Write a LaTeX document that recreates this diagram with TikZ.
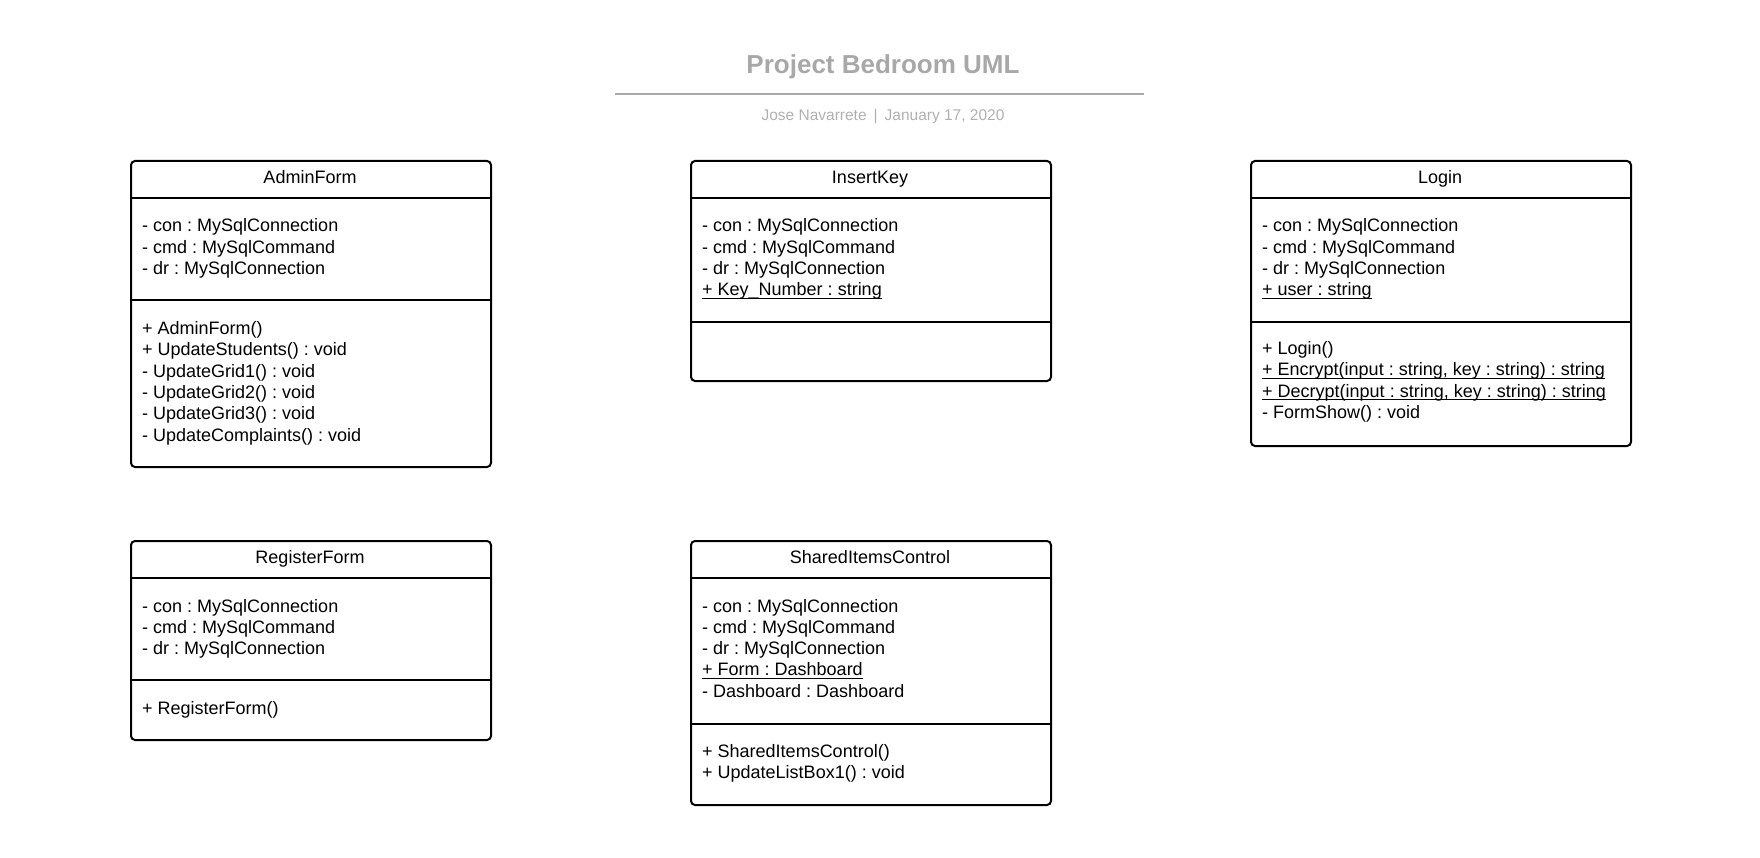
\documentclass[tikz,border=0pt]{standalone}
\usepackage{fontspec}
\setmainfont{Liberation Sans}
\frenchspacing
\definecolor{ttlgray}{HTML}{A8A8A8}
\definecolor{subgray}{HTML}{B0B0B0}
\newcommand\bodyfs{\fontsize{18}{21.3}\selectfont}
\tikzset{
  cls/.style={draw=black, line width=2pt, rounded corners=4pt, inner sep=0pt, anchor=north west, minimum width=360pt},
  sep/.style={draw=black, line width=2pt},
  txt/.style={inner sep=0pt, anchor=base west, font=\bodyfs, xshift=1pt},
  hdr/.style={inner sep=0pt, anchor=base, font=\bodyfs},
  ul/.style={draw=black, line width=1.2pt},
}
\newcommand\uln[1]{\draw[ul] ([yshift=-2.6pt]#1.base west) -- ([yshift=-2.6pt]#1.base east);}
\begin{document}
\begin{tikzpicture}[x=1pt,y=-1pt]
\useasboundingbox (0,0) rectangle (1760,858);
% title
\node[inner sep=0pt, anchor=base, font=\fontsize{26}{30}\selectfont\bfseries, text=ttlgray] (title) at (883,73.3) {Project Bedroom UML};
\coordinate (ruleL) at (615,94.3);
\coordinate (ruleR) at (1144,94.3);
\draw[ttlgray, line width=2pt] (ruleL) -- (ruleR);
\node[inner sep=0pt, anchor=base, font=\fontsize{15.5}{18}\selectfont, text=subgray] (subtitle) at (883,121) {Jose Navarrete\hspace{7pt}|\hspace{7pt}January 17, 2020};

% AdminForm
\node[cls, minimum height=306pt] (admin) at (130,160) {};
\draw[sep] (admin.west |- 0,198) -- (admin.east |- 0,198);
\draw[sep] (admin.west |- 0,300) -- (admin.east |- 0,300);
\node[hdr] (adminT) at (310,183.5) {AdminForm};
\node[txt] (a1) at (141,232) {- con : MySqlConnection};
\node[txt] (a2) at (141,253.3) {- cmd : MySqlCommand};
\node[txt] (a3) at (141,274.6) {- dr : MySqlConnection};
\node[txt] (am1) at (141,334.5) {+ AdminForm()};
\node[txt] (am2) at (141,355.8) {+ UpdateStudents() : void};
\node[txt] (am3) at (141,377.1) {- UpdateGrid1() : void};
\node[txt] (am4) at (141,398.4) {- UpdateGrid2() : void};
\node[txt] (am5) at (141,419.7) {- UpdateGrid3() : void};
\node[txt] (am6) at (141,441) {- UpdateComplaints() : void};

% InsertKey
\node[cls, minimum height=220pt] (ins) at (690,160) {};
\draw[sep] (ins.west |- 0,198) -- (ins.east |- 0,198);
\draw[sep] (ins.west |- 0,322) -- (ins.east |- 0,322);
\node[hdr] (insT) at (870,183.5) {InsertKey};
\node[txt] (i1) at (701,232) {- con : MySqlConnection};
\node[txt] (i2) at (701,253.3) {- cmd : MySqlCommand};
\node[txt] (i3) at (701,274.6) {- dr : MySqlConnection};
\node[txt] (i4) at (701,295.9) {+ Key\_Number : string};
\uln{i4}

% Login
\node[cls, minimum width=380pt, minimum height=285pt] (login) at (1250,160) {};
\draw[sep] (login.west |- 0,198) -- (login.east |- 0,198);
\draw[sep] (login.west |- 0,322) -- (login.east |- 0,322);
\node[hdr] (loginT) at (1440,183.5) {Login};
\node[txt] (l1) at (1261,232) {- con : MySqlConnection};
\node[txt] (l2) at (1261,253.3) {- cmd : MySqlCommand};
\node[txt] (l3) at (1261,274.6) {- dr : MySqlConnection};
\node[txt] (l4) at (1261,295.9) {+ user : string};
\uln{l4}
\node[txt] (lm1) at (1261,354.5) {+ Login()};
\node[txt] (lm2) at (1261,375.8) {+ Encrypt(input : string, key : string) : string};
\node[txt] (lm3) at (1261,397.1) {+ Decrypt(input : string, key : string) : string};
\node[txt] (lm4) at (1261,418.4) {- FormShow() : void};
\uln{lm2}
\uln{lm3}

% RegisterForm
\node[cls, minimum height=199pt] (reg) at (130,540) {};
\draw[sep] (reg.west |- 0,578) -- (reg.east |- 0,578);
\draw[sep] (reg.west |- 0,680) -- (reg.east |- 0,680);
\node[hdr] (regT) at (310,563.5) {RegisterForm};
\node[txt] (r1) at (141,612) {- con : MySqlConnection};
\node[txt] (r2) at (141,633.3) {- cmd : MySqlCommand};
\node[txt] (r3) at (141,654.6) {- dr : MySqlConnection};
\node[txt] (rm1) at (141,714.5) {+ RegisterForm()};

% SharedItemsControl
\node[cls, minimum height=264pt] (shr) at (690,540) {};
\draw[sep] (shr.west |- 0,578) -- (shr.east |- 0,578);
\draw[sep] (shr.west |- 0,724) -- (shr.east |- 0,724);
\node[hdr] (shrT) at (870,563.5) {SharedItemsControl};
\node[txt] (s1) at (701,612) {- con : MySqlConnection};
\node[txt] (s2) at (701,633.3) {- cmd : MySqlCommand};
\node[txt] (s3) at (701,654.6) {- dr : MySqlConnection};
\node[txt] (s4) at (701,675.9) {+ Form : Dashboard};
\node[txt] (s5) at (701,697.2) {- Dashboard : Dashboard};
\uln{s4}
\node[txt] (sm1) at (701,757.5) {+ SharedItemsControl()};
\node[txt] (sm2) at (701,778.8) {+ UpdateListBox1() : void};
\end{tikzpicture}
\end{document}
